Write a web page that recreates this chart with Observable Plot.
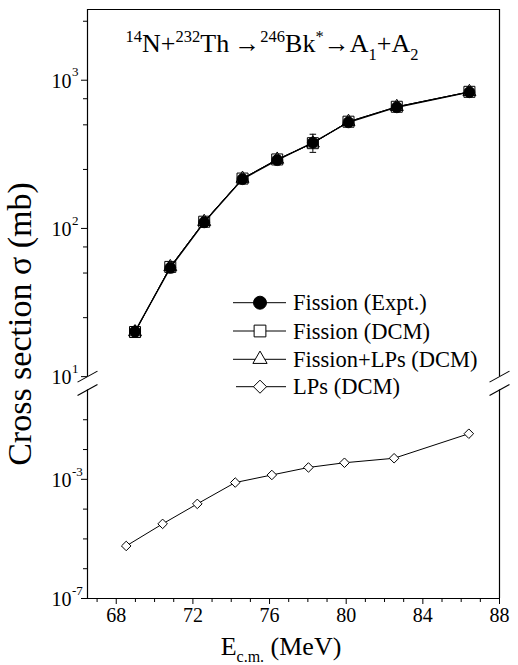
<!DOCTYPE html>
<html>
<head>
<meta charset="utf-8">
<script src="https://cdn.jsdelivr.net/npm/d3@7"></script>
<script src="https://cdn.jsdelivr.net/npm/@observablehq/plot@0.6"></script>
<style>
  html, body { margin: 0; padding: 0; background: #fff; }
  #chart { width: 518px; height: 665px; }
  #chart svg text { font-family: "Liberation Serif", "Times New Roman", serif; }
</style>
</head>
<body>
<div id="chart"></div>
<script>
// Centre-of-mass energies (MeV)
const energyExpt = [68.98, 70.82, 72.59, 74.59, 76.40, 78.26, 80.12, 82.64, 86.43];
const energyLPs  = [68.52, 70.42, 72.23, 74.21, 76.12, 78.03, 79.91, 82.50, 86.40];

// Cross sections (mb)
const fissionExpt    = [20.2, 54.2, 110, 215, 289, 379, 520, 657, 830];
const fissionExptErr = [1.5, 4, 8, 14, 20, 53, 30, 40, 50];
const fissionDCM     = [20.0, 55.0, 111, 217, 292, 376, 525, 662, 835];
const fissionLPsDCM  = [20.0, 55.0, 111, 217, 292, 376, 525, 662, 835];
const lpsDCM         = [5.8e-6, 3.2e-5, 1.5e-4, 7.8e-4, 1.4e-3, 2.5e-3, 3.6e-3, 5.1e-3, 3.4e-2];

// Axis ticks
const xMajorTicks = [68, 72, 76, 80, 84, 88];
const xMinorTicks = [67, 69, 70, 71, 73, 74, 75, 77, 78, 79, 81, 82, 83, 85, 86, 87];
const yMajorTicks = [1e-7, 1e-3, 10, 100, 1000];
const yTickExponents = ["-7", "-3", "1", "2", "3"];
const yMinorTicks = [1e-6, 1e-5, 1e-4, 1e-2, 1e-1, 25, 50, 75, 250, 500, 750, 2500];

const legendLabels = ["Fission (Expt.)", "Fission (DCM)", "Fission+LPs (DCM)", "LPs (DCM)"];

// Broken log axis: a compressed lower segment (1e-7 .. 1) and an expanded
// upper segment (10 .. 3000), separated by a short gap.
const xDomain = [66.5, 88];
const yLow = 1e-7, yBreakLow = 1, yBreakHigh = 10, yHigh = 3000;
const decadeLow = 29.75, decadeHigh = 148, gap = 13.3;
function brk(s) {
  if (s <= yBreakLow) return (Math.log10(s) - Math.log10(yLow)) * decadeLow;
  const base = (Math.log10(yBreakLow) - Math.log10(yLow)) * decadeLow + gap;
  return base + (Math.log10(s) - Math.log10(yBreakHigh)) * decadeHigh;
}

const expt = energyExpt.map((E, i) => ({E, s: fissionExpt[i], e: fissionExptErr[i]}));
const dcm = energyExpt.map((E, i) => ({E, s: fissionDCM[i]}));
const dcmLP = energyExpt.map((E, i) => ({E, s: fissionLPsDCM[i]}));
const lps = energyLPs.map((E, i) => ({E, s: lpsDCM[i]}));
const yLabels = yMajorTicks.map((t, i) => ({t, exp: yTickExponents[i]}));

const font = "Liberation Serif";
const capHalf = 0.17;
const slashDx = 0.52, slashDy = 5.5;
const slashes = [];
for (const x of xDomain) for (const s of [yBreakHigh, yBreakLow]) slashes.push({x, s});

const plot = Plot.plot({
  width: 518,
  height: 665,
  marginLeft: 87,
  marginRight: 19,
  marginTop: 9,
  marginBottom: 67,
  x: {domain: xDomain},
  y: {domain: [0, brk(yHigh)]},
  style: {fontFamily: font, fontSize: "20px", color: "black", background: "white"},
  marks: [
    // frame, interrupted at the axis break
    Plot.ruleY([yHigh], {y: brk, stroke: "black", strokeWidth: 1.2}),
    Plot.ruleY([yLow], {y: brk, stroke: "black", strokeWidth: 1.2}),
    Plot.ruleX(xDomain, {y1: brk(yHigh), y2: brk(yBreakHigh), stroke: "black", strokeWidth: 1.2}),
    Plot.ruleX(xDomain, {y1: brk(yBreakLow), y2: brk(yLow), stroke: "black", strokeWidth: 1.2}),
    Plot.link(slashes, {
      x1: d => d.x - slashDx, x2: d => d.x + slashDx,
      y1: d => brk(d.s) - slashDy, y2: d => brk(d.s) + slashDy,
      stroke: "black", strokeWidth: 1.1
    }),

    // ticks
    Plot.axisX(xMajorTicks, {tickSize: 6, tickPadding: 3, fontSize: 20, label: null}),
    Plot.axisX(xMinorTicks, {tickSize: 4, tickFormat: () => "", label: null}),
    Plot.axisY(yMajorTicks.map(brk), {tickSize: 6, tickFormat: () => "", label: null}),
    Plot.axisY(yMinorTicks.map(brk), {tickSize: 4, tickFormat: () => "", label: null}),
    Plot.text(yLabels, {y: d => brk(d.t), text: () => "10", frameAnchor: "left", dx: -16, textAnchor: "end", fontSize: 20, dy: 1}),
    Plot.text(yLabels, {y: d => brk(d.t), text: "exp", frameAnchor: "left", dx: -15.5, dy: -8, textAnchor: "start", fontSize: 13}),

    // series lines
    Plot.line(lps, {x: "E", y: d => brk(d.s), stroke: "black", strokeWidth: 1}),
    Plot.line(expt, {x: "E", y: d => brk(d.s), stroke: "black", strokeWidth: 1.3}),
    Plot.line(dcm, {x: "E", y: d => brk(d.s), stroke: "black", strokeWidth: 1}),
    Plot.line(dcmLP, {x: "E", y: d => brk(d.s), stroke: "black", strokeWidth: 1}),

    // error bars on the measured fission cross sections
    Plot.ruleX(expt, {x: "E", y1: d => brk(d.s - d.e), y2: d => brk(d.s + d.e), stroke: "black", strokeWidth: 1}),
    Plot.link(expt, {x1: d => d.E - capHalf, x2: d => d.E + capHalf, y1: d => brk(d.s + d.e), y2: d => brk(d.s + d.e), stroke: "black", strokeWidth: 1}),
    Plot.link(expt, {x1: d => d.E - capHalf, x2: d => d.E + capHalf, y1: d => brk(d.s - d.e), y2: d => brk(d.s - d.e), stroke: "black", strokeWidth: 1}),

    // markers
    Plot.dot(lps, {x: "E", y: d => brk(d.s), symbol: "diamond2", r: 4.3, fill: "white", stroke: "black", strokeWidth: 1}),
    Plot.dot(dcm, {x: "E", y: d => brk(d.s), symbol: "square2", r: 7, fill: "none", stroke: "black", strokeWidth: 1}),
    Plot.dot(dcmLP, {x: "E", y: d => brk(d.s), symbol: "triangle2", r: 6.2, fill: "none", stroke: "black", strokeWidth: 1}),
    Plot.dot(expt, {x: "E", y: d => brk(d.s), symbol: "circle", r: 5.5, fill: "black", stroke: "black", strokeWidth: 0.8})
  ]
});

document.getElementById("chart").appendChild(plot);

const svg = d3.select(plot);

// reaction title with super/subscripts
const title = svg.append("text")
  .attr("x", 272).attr("y", 52)
  .attr("text-anchor", "middle")
  .style("font-family", font).attr("font-size", 26).attr("fill", "black");
const parts = [
  ["14", "sup"], ["N+", ""], ["232", "sup"], ["Th", ""], ["\u2009\u2192", ""], ["246", "sup"],
  ["Bk", ""], ["*", "sup"], ["\u2192", ""], ["A", ""], ["1", "sub"], ["+A", ""], ["2", "sub"]
];
let shift = 0;
for (const [t, kind] of parts) {
  const target = kind === "sup" ? -10 : kind === "sub" ? 8 : 0;
  title.append("tspan")
    .attr("dy", target - shift)
    .attr("font-size", kind ? 16.5 : 26)
    .text(t);
  shift = target;
}

// axis titles
svg.append("text")
  .attr("transform", "translate(31,324) rotate(-90)")
  .attr("text-anchor", "middle")
  .style("font-family", font).attr("font-size", 34).attr("fill", "black")
  .text("Cross section \u03c3 (mb)");

const xt = svg.append("text")
  .attr("x", 281).attr("y", 655)
  .attr("text-anchor", "middle")
  .style("font-family", font).attr("font-size", 26).attr("fill", "black");
xt.append("tspan").text("E");
xt.append("tspan").attr("dy", 7).attr("font-size", 16).text("c.m.");
xt.append("tspan").attr("dy", -7).text(" (MeV)");

// legend
const legendSymbols = [
  {type: d3.symbolCircle, size: Math.PI * 6.5 * 6.5, fill: "black"},
  {type: d3.symbolSquare2, size: Math.PI * 7.5 * 7.5, fill: "white"},
  {type: d3.symbolTriangle2, size: Math.PI * 6.8 * 6.8, fill: "white"},
  {type: d3.symbolDiamond2, size: Math.PI * 5.9 * 5.9, fill: "white"}
];
const legendRows = [302.7, 331, 359.3, 386.7];
const lg = svg.append("g")
  .style("font-family", font).attr("font-size", 22.5).attr("text-anchor", "start");
legendLabels.forEach((label, i) => {
  const y = legendRows[i];
  lg.append("line").attr("x1", i === 3 ? 236 : 233).attr("x2", 286)
    .attr("y1", y).attr("y2", y).attr("stroke", "black").attr("stroke-width", 1);
  lg.append("path")
    .attr("transform", `translate(260,${y})`)
    .attr("d", d3.symbol(legendSymbols[i].type, legendSymbols[i].size)())
    .attr("fill", legendSymbols[i].fill).attr("stroke", "black").attr("stroke-width", 1);
  lg.append("text").attr("x", 293).attr("y", y + 7.5).attr("fill", "black").text(label);
});
</script>
</body>
</html>
